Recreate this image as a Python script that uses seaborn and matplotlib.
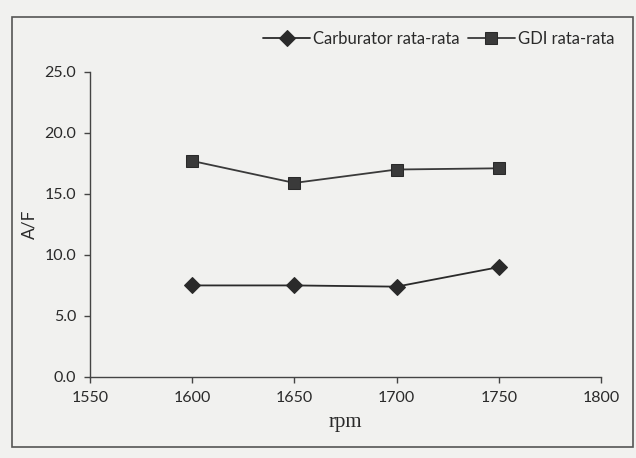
import matplotlib
matplotlib.use("Agg")
import matplotlib.pyplot as plt
import matplotlib.patches as mpatches
import seaborn as sns
import pandas as pd

rpm = [1600, 1650, 1700, 1750]
carburator = [7.5, 7.5, 7.4, 9.0]
gdi = [17.7, 15.9, 17.0, 17.1]
series_names = ["Carburator rata-rata", "GDI rata-rata"]
x_ticks = [1550, 1600, 1650, 1700, 1750, 1800]
y_ticks = [0.0, 5.0, 10.0, 15.0, 20.0, 25.0]

df = pd.DataFrame({
    "rpm": rpm * 2,
    "AF": carburator + gdi,
    "series": [series_names[0]] * len(rpm) + [series_names[1]] * len(rpm),
})

sns.set_style("white")
plt.rcParams["font.family"] = ["Lato", "DejaVu Sans"]

bg = "#f1f1ef"
fig = plt.figure(figsize=(6.36, 4.58), dpi=100, facecolor=bg)
ax = fig.add_axes([0.1415, 0.177, 0.8035, 0.666])
ax.set_facecolor(bg)

sns.lineplot(data=df, x="rpm", y="AF", hue="series", style="series",
             markers={series_names[0]: "D", series_names[1]: "s"},
             dashes=False, palette=["#2a2a2a", "#3a3a3a"],
             markersize=8, linewidth=1.3, markeredgecolor="#2a2a2a",
             ax=ax, legend=True)

ax.set_xlim(1550, 1800)
ax.set_ylim(0, 25)
ax.set_xticks(x_ticks)
ax.set_yticks(y_ticks)
ax.set_xticklabels([str(v) for v in x_ticks])
ax.set_yticklabels([f"{v:.1f}" for v in y_ticks])
ax.tick_params(axis="both", direction="out", length=4, width=1, color="#444",
               labelsize=11.5, labelcolor="#2a2a2a", left=True, bottom=True, pad=6)
for s in ["top", "right"]:
    ax.spines[s].set_visible(False)
for s in ["left", "bottom"]:
    ax.spines[s].set_color("#444")
    ax.spines[s].set_linewidth(1)

ax.set_xlabel("rpm", family=["Liberation Serif"], fontsize=15, color="#2a2a2a", labelpad=6)
ax.set_ylabel("A/F", fontsize=12.5, color="#2a2a2a", labelpad=5)

h, l = ax.get_legend_handles_labels()
ax.get_legend().remove()
fig.legend(h, l, loc="upper right", bbox_to_anchor=(0.99, 0.965), ncol=2,
           frameon=False, fontsize=12, handlelength=2.8, columnspacing=0.5,
           handletextpad=0.2, labelcolor="#2a2a2a")

frame = mpatches.Rectangle((0.019, 0.024), 0.976, 0.939, transform=fig.transFigure,
                           fill=False, edgecolor="#555", linewidth=1.2)
fig.patches.append(frame)

fig.savefig("out.png", dpi=100, facecolor=bg)
